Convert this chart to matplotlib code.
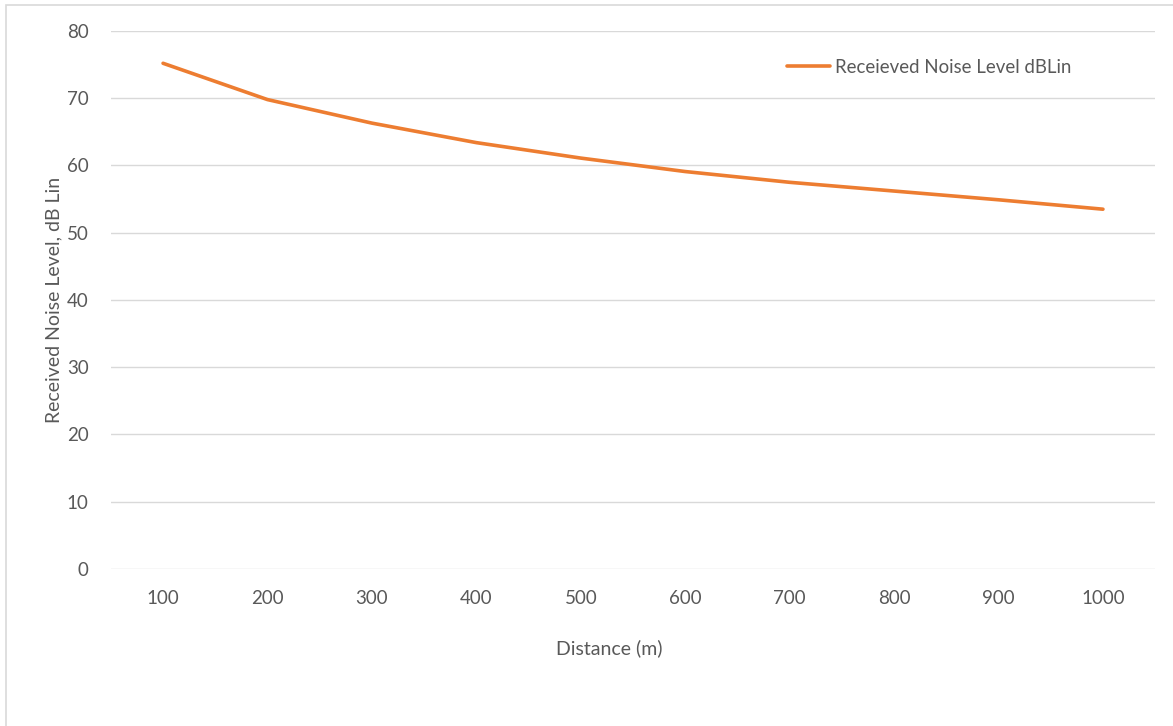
import matplotlib.pyplot as plt
from matplotlib.patches import Rectangle

plt.rcParams['font.family'] = ['Lato', 'DejaVu Sans']

distance = ['100', '200', '300', '400', '500', '600', '700', '800', '900', '1000']
noise_level = [75.2, 69.8, 66.3, 63.4, 61.1, 59.1, 57.5, 56.2, 54.9, 53.5]
y_ticks = [0, 10, 20, 30, 40, 50, 60, 70, 80]

text_col = '#595959'
grid_col = '#d9d9d9'
line_col = '#ed7d31'

fig = plt.figure(figsize=(11.73, 7.26), dpi=100, facecolor='w')
# chart frame (light border, runs off the right/bottom edge)
fig.patches.append(Rectangle((6 / 1173, -0.05), 1.2, 1 - 5 / 726 + 0.05,
                             transform=fig.transFigure, fill=False,
                             edgecolor=grid_col, linewidth=1.2))

ax = fig.add_axes([0.0945, 0.2163, 0.8903, 0.741])
x = list(range(len(distance)))
ax.plot(x, noise_level, color=line_col, linewidth=2.6, solid_capstyle='round',
        label='Receieved Noise Level dBLin')

ax.set_xlim(-0.5, len(distance) - 0.5)
ax.set_ylim(0, 80)
ax.set_yticks(y_ticks)
ax.set_xticks(x)
ax.set_xticklabels(distance)
ax.grid(axis='y', color=grid_col, linewidth=1)
ax.set_axisbelow(True)
for s in ax.spines.values():
    s.set_visible(False)
ax.tick_params(length=0, labelsize=13.5, labelcolor=text_col)
ax.tick_params(axis='y', pad=16)
ax.tick_params(axis='x', pad=15)

fig.text(609 / 1173, 1 - 648 / 726, 'Distance (m)', fontsize=14, color=text_col,
         ha='center', va='center')
ax.set_ylabel('Received Noise Level, dB Lin', fontsize=14, color=text_col, labelpad=3)

leg = ax.legend(loc='upper right', bbox_to_anchor=(0.936, 0.98), frameon=False,
                fontsize=13.4, handlelength=2.3, handletextpad=0.3)
for t in leg.get_texts():
    t.set_color(text_col)

fig.savefig('out.png', dpi=100, facecolor='w')
